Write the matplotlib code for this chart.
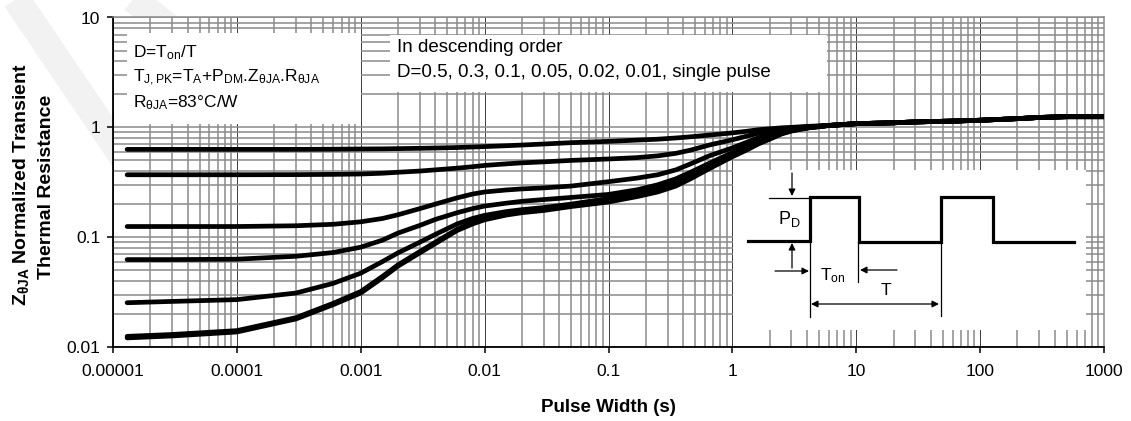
import numpy as np
import matplotlib
matplotlib.use('Agg')
import matplotlib.pyplot as plt
from matplotlib.ticker import FixedLocator, FixedFormatter, LogLocator, NullFormatter
from matplotlib.patches import Rectangle

plt.rcParams['font.family'] = ['Liberation Sans', 'DejaVu Sans']
plt.rcParams['mathtext.fontset'] = 'custom'
plt.rcParams['mathtext.rm'] = 'Liberation Sans'
plt.rcParams['mathtext.it'] = 'Liberation Sans:italic'
plt.rcParams['mathtext.bf'] = 'Liberation Sans:bold'

# pulse width (s) where curves were read
pulse_width = [1.3e-5, 3e-5, 1e-4, 3e-4, 6e-4, 1e-3, 1.5e-3, 2e-3, 3e-3, 4e-3,
               6e-3, 8e-3, 1e-2, 1.5e-2, 2e-2, 3e-2, 5e-2, 0.1, 0.17, 0.25,
               0.35, 0.46, 0.65, 1, 1.3, 1.6, 2, 2.5, 3, 4,
               6, 10, 20, 30, 60, 100, 200, 300, 500, 1000]

# normalized transient thermal resistance, one list per duty cycle
z_d050 = [0.63, 0.63, 0.63, 0.63, 0.632, 0.635, 0.637, 0.64, 0.644, 0.648,
          0.655, 0.662, 0.668, 0.68, 0.69, 0.705, 0.725, 0.745, 0.765, 0.78,
          0.8, 0.82, 0.85, 0.89, 0.92, 0.95, 0.97, 0.99, 1.0, 1.02,
          1.04, 1.08, 1.1, 1.12, 1.14, 1.16, 1.2, 1.23, 1.25, 1.25]
z_d030 = [0.37, 0.37, 0.37, 0.371, 0.373, 0.376, 0.382, 0.39, 0.4, 0.41,
          0.425, 0.438, 0.45, 0.465, 0.475, 0.485, 0.5, 0.515, 0.53, 0.55,
          0.58, 0.62, 0.69, 0.77, 0.83, 0.88, 0.92, 0.96, 0.985, 1.01,
          1.04, 1.08, 1.1, 1.12, 1.14, 1.16, 1.2, 1.23, 1.25, 1.25]
z_d010 = [0.125, 0.125, 0.125, 0.127, 0.131, 0.138, 0.148, 0.16, 0.182, 0.2,
          0.228, 0.247, 0.258, 0.269, 0.275, 0.281, 0.292, 0.32, 0.345, 0.37,
          0.41, 0.465, 0.55, 0.65, 0.73, 0.8, 0.86, 0.92, 0.96, 1.0,
          1.04, 1.08, 1.1, 1.12, 1.14, 1.16, 1.2, 1.23, 1.25, 1.25]
z_d005 = [0.0625, 0.0625, 0.063, 0.067, 0.0725, 0.081, 0.094, 0.109, 0.128, 0.145,
          0.167, 0.182, 0.192, 0.204, 0.212, 0.22, 0.23, 0.245, 0.27, 0.3,
          0.34, 0.39, 0.47, 0.59, 0.67, 0.75, 0.83, 0.91, 0.95, 0.99,
          1.04, 1.08, 1.1, 1.12, 1.14, 1.16, 1.2, 1.23, 1.25, 1.25]
z_d002 = [0.0253, 0.026, 0.027, 0.031, 0.038, 0.047, 0.06, 0.072, 0.09, 0.106,
          0.132, 0.148, 0.158, 0.171, 0.178, 0.186, 0.2, 0.225, 0.25, 0.28,
          0.32, 0.37, 0.45, 0.56, 0.65, 0.73, 0.82, 0.9, 0.945, 0.99,
          1.04, 1.08, 1.1, 1.12, 1.14, 1.16, 1.2, 1.23, 1.25, 1.25]
z_d001 = [0.0125, 0.013, 0.0141, 0.0185, 0.025, 0.032, 0.044, 0.056, 0.074, 0.09,
          0.118, 0.136, 0.148, 0.163, 0.172, 0.18, 0.195, 0.215, 0.24, 0.265,
          0.3, 0.35, 0.43, 0.55, 0.63, 0.71, 0.79, 0.88, 0.93, 0.985,
          1.04, 1.08, 1.1, 1.12, 1.14, 1.16, 1.2, 1.23, 1.25, 1.25]
z_single = [0.0121, 0.0126, 0.0137, 0.018, 0.0243, 0.031, 0.0427, 0.0545, 0.072, 0.0875,
            0.115, 0.132, 0.144, 0.159, 0.167, 0.175, 0.19, 0.209, 0.234, 0.258,
            0.292, 0.34, 0.42, 0.54, 0.62, 0.7, 0.78, 0.87, 0.925, 0.985,
            1.04, 1.08, 1.1, 1.12, 1.14, 1.16, 1.2, 1.23, 1.25, 1.25]
curves = [z_d050, z_d030, z_d010, z_d005, z_d002, z_d001, z_single]

x_ticks = [1e-5, 1e-4, 1e-3, 1e-2, 1e-1, 1, 10, 100, 1000]
x_tick_labels = ['0.00001', '0.0001', '0.001', '0.01', '0.1', '1', '10', '100', '1000']
y_ticks = [0.01, 0.1, 1, 10]
y_tick_labels = ['0.01', '0.1', '1', '10']

W, H = 1131, 421
fig = plt.figure(figsize=(W / 100, H / 100), dpi=100)

# faint watermark strokes behind the chart
for (xa, ya), (xb, yb) in [((10, -10), (125, 160)), ((122, -10), (240, 85))]:
    fig.add_artist(plt.Line2D([xa / W, xb / W], [1 - ya / H, 1 - yb / H],
                              color='#f2f2f2', lw=20, solid_capstyle='butt', zorder=-5))

ax = fig.add_axes([113 / W, 1 - 347 / H, 991 / W, 329.5 / H])
ax.set_xscale('log')
ax.set_yscale('log')
ax.set_xlim(1e-5, 1000)
ax.set_ylim(0.01, 10)
ax.set_axisbelow(True)

for z in curves:
    ax.plot(pulse_width, z, color='black', lw=3.4, solid_capstyle='round',
            solid_joinstyle='round', zorder=5)

ax.xaxis.set_major_locator(FixedLocator(x_ticks))
ax.xaxis.set_major_formatter(FixedFormatter(x_tick_labels))
ax.yaxis.set_major_locator(FixedLocator(y_ticks))
ax.yaxis.set_major_formatter(FixedFormatter(y_tick_labels))
for axis in (ax.xaxis, ax.yaxis):
    axis.set_minor_locator(LogLocator(base=10, subs=np.arange(2, 10), numticks=20))
    axis.set_minor_formatter(NullFormatter())

ax.xaxis.grid(True, which='major', color='#3a3a3a', lw=0.7)
ax.yaxis.grid(True, which='major', color='#8a8a8a', lw=1.1)
ax.grid(True, which='minor', color='#8a8a8a', lw=1.1)

ax.tick_params(which='major', direction='out', length=4.5, width=1.1, labelsize=12.5,
               colors='black')
ax.tick_params(axis='x', which='major', pad=7.5)
ax.tick_params(axis='y', which='major', pad=4.5)
ax.tick_params(which='minor', length=0)

for s in ('left', 'bottom'):
    ax.spines[s].set_color('black')
    ax.spines[s].set_linewidth(1.3)
for s in ('top', 'right'):
    ax.spines[s].set_color('#8a8a8a')
    ax.spines[s].set_linewidth(1.1)

# white note boxes
tr = ax.transAxes
def px_box(x0, y0, x1, y1):
    return Rectangle(((x0 - 113) / 991, (347 - y1) / 329.5), (x1 - x0) / 991,
                     (y1 - y0) / 329.5, transform=tr, facecolor='white',
                     edgecolor='none', zorder=4)
ax.add_patch(px_box(127, 33, 361, 124))
ax.add_patch(px_box(390, 35, 827, 92))

def px_text(x, y, s, size):
    ax.text((x - 113) / 991, (347 - y) / 329.5, s, transform=tr, va='center',
            ha='left', fontsize=size, zorder=6)

px_text(133, 53, r'D=T$_{\mathrm{on}}$/T', 12.5)
px_text(133, 78, r'T$_{\mathrm{J,PK}}$=T$_{\mathrm{A}}$+P$_{\mathrm{DM}}$.Z$_{\mathrm{θJA}}$.R$_{\mathrm{θJA}}$', 12.5)
px_text(133, 103, r'R$_{\mathrm{θJA}}$=83°C/W', 12.5)
px_text(397, 48, 'In descending order', 13.5)
px_text(397, 73, 'D=0.5, 0.3, 0.1, 0.05, 0.02, 0.01, single pulse', 13.5)

ax.set_xlabel('Pulse Width (s)', fontsize=13.5, fontweight='bold')
ax.xaxis.set_label_coords(0.5, (347 - 408) / 329.5)
ax.xaxis.label.set_va('center')

fig.text(21 / W, 1 - 185 / H, r'$\mathbf{Z_{θJA}}$ Normalized Transient', rotation=90,
         ha='center', va='center', fontsize=14, fontweight='bold')
fig.text(47 / W, 1 - 187 / H, 'Thermal Resistance', rotation=90,
         ha='center', va='center', fontsize=14, fontweight='bold')

# inset: duty cycle waveform sketch (pixel coordinates of the picture)
ins = fig.add_axes([733 / W, 1 - 330 / H, (1086 - 733) / W, (330 - 170) / H])
ins.set_xlim(733, 1086)
ins.set_ylim(330, 170)
ins.set_xticks([])
ins.set_yticks([])
for s in ins.spines.values():
    s.set_visible(False)
ins.set_facecolor('white')

wave_x = [748, 810, 810, 859, 859, 941, 941, 993, 993, 1074]
wave_y = [241, 241, 197, 197, 242, 242, 197, 197, 242, 242]
ins.plot(wave_x, wave_y, color='black', lw=2.3, solid_joinstyle='miter')

thin = dict(color='black', lw=0.9)
ins.plot([769, 810], [198, 198], **thin)
ins.plot([810, 810], [197, 317], **thin)
ins.plot([858, 858], [242, 282], **thin)
ins.plot([941, 941], [242, 316], **thin)

arrow = dict(arrowstyle='-|>', color='black', lw=0.9, mutation_scale=10,
             shrinkA=0, shrinkB=0)
ins.annotate('', xy=(792, 196), xytext=(792, 173), arrowprops=arrow)
ins.annotate('', xy=(792, 243), xytext=(792, 268), arrowprops=arrow)
ins.annotate('', xy=(809, 271), xytext=(775, 271), arrowprops=arrow)
ins.annotate('', xy=(860, 270), xytext=(897, 270), arrowprops=arrow)
ins.annotate('', xy=(939, 304), xytext=(811, 304),
             arrowprops=dict(arrowstyle='<|-|>', color='black', lw=0.9,
                             mutation_scale=10, shrinkA=0, shrinkB=0))

ins.text(778, 219, r'P$_{\mathrm{D}}$', fontsize=13, va='center', ha='left')
ins.text(820, 276, r'T$_{\mathrm{on}}$', fontsize=12.5, va='center', ha='left')
ins.text(886, 291, 'T', fontsize=12.5, va='center', ha='center')

fig.savefig('out.png', dpi=100, facecolor='white')
